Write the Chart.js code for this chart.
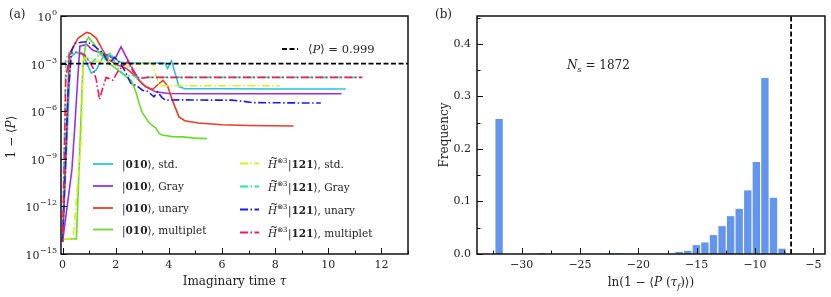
<!DOCTYPE html>
<html><head><meta charset="utf-8">
<script src="https://cdn.jsdelivr.net/npm/chart.js@4.4.0/dist/chart.umd.min.js"></script>
<style>
html,body{margin:0;padding:0;background:#fff;}
#wrap{position:relative;width:831px;height:297px;overflow:hidden;}
.pane{position:absolute;top:0;}
</style></head><body>
<div id="wrap">
<div class="pane" style="left:0;width:415px;height:297px"><canvas id="ca" width="415" height="297"></canvas></div>
<div class="pane" style="left:415px;width:416px;height:297px"><canvas id="cb" width="416" height="297"></canvas></div>
</div>
<script>
// ---------------- DATA: panel (a) ----------------
const tauStd = [0, 0.3, 0.5, 0.75, 1.08, 1.27, 1.51, 1.75, 2.14, 2.4, 3.0, 3.6, 3.85, 3.95, 4.1, 4.38, 4.6, 6.0, 8.0, 10.66];
const valStd = [6e-15, 2.5e-3, 5e-3, 4e-3, 2.5e-4, 4e-4, 2.5e-3, 4e-3, 1.3e-3, 1.1e-3, 1.1e-3, 1.1e-3, 1.1e-3, 5e-4, 1.5e-3, 3.5e-5, 2.6e-5, 2.6e-5, 2.5e-5, 2.5e-5];

const tauGray = [0, 0.35, 0.45, 0.55, 0.65, 0.9, 1.14, 1.52, 1.75, 1.95, 2.2, 2.39, 2.63, 2.88, 3.13, 3.5, 4.0, 5, 7, 10.5];
const valGray = [6e-15, 2e-10, 6.3e-8, 3.2e-5, 1.26e-2, 1.6e-2, 7e-3, 4.4e-3, 3.2e-3, 1.7e-3, 1.15e-2, 2.7e-3, 5e-4, 9e-5, 3.4e-5, 1.66e-5, 1.3e-5, 1.26e-5, 1.26e-5, 1.25e-5];

const tauUnary = [0, 0.25, 0.58, 0.9, 1.05, 1.27, 1.51, 1.76, 2.07, 2.4, 2.76, 3.0, 3.2, 3.38, 3.6, 3.78, 3.95, 4.13, 4.38, 4.6, 5.1, 6.0, 7.0, 8.69];
const valUnary = [6e-15, 4e-3, 3.9e-2, 9.3e-2, 7.9e-2, 3.9e-2, 7e-3, 1.66e-3, 8e-4, 5e-4, 1.5e-4, 5e-5, 3.2e-5, 2.3e-5, 5e-5, 8.9e-5, 4e-5, 5e-6, 4.4e-7, 2.5e-7, 1.8e-7, 1.4e-7, 1.26e-7, 1.17e-7];

const tauMult = [0, 0.52, 0.77, 0.88, 0.98, 1.2, 1.39, 1.6, 1.76, 2.0, 2.3, 2.45, 2.6, 2.76, 2.88, 3.0, 3.26, 3.5, 3.63, 3.75, 4.13, 4.5, 5.0, 5.43];
const valMult = [9e-15, 9e-15, 1e-3, 2.5e-2, 4.5e-2, 1.6e-2, 4.4e-3, 2e-3, 1e-3, 5e-4, 2e-4, 1.26e-4, 8e-5, 1.6e-5, 3.2e-6, 8e-7, 1.8e-7, 9e-8, 4e-8, 3.2e-8, 2.5e-8, 2.4e-8, 2e-8, 1.86e-8];

const tauHStd = [0, 0.4, 0.7, 0.78, 1.0, 1.27, 1.6, 1.9, 2.2, 2.5, 2.8, 3.13, 3.4, 3.5, 3.63, 4.5, 6.0, 8.17];
const valHStd = [9e-15, 9e-15, 1.6e-8, 2e-3, 2.5e-3, 1.3e-3, 1.6e-3, 2e-3, 1e-3, 6.3e-4, 1e-3, 1.12e-3, 1.12e-3, 2.4e-4, 4e-5, 4e-5, 4e-5, 4e-5];

const tauHGray = [0, 0.12, 0.25, 0.45, 0.65, 0.85, 1.05, 1.25, 1.45, 1.65, 1.8, 2.0, 2.2, 2.4, 2.6, 2.8, 3.0, 3.5, 6, 9, 11.28];
const valHGray = [6e-15, 2e-3, 5e-3, 4e-3, 6e-3, 3e-3, 1e-3, 2e-3, 6e-3, 1.5e-3, 5e-3, 8e-4, 3e-4, 1.5e-4, 2e-4, 1.3e-4, 1.35e-4, 1.35e-4, 1.35e-4, 1.35e-4, 1.35e-4];

const tauHUnary = [0, 0.2, 0.34, 0.46, 0.7, 0.9, 1.14, 1.35, 1.52, 1.76, 1.95, 2.07, 2.26, 2.39, 2.57, 2.8, 3.0, 3.2, 3.44, 3.57, 3.75, 3.88, 4.5, 5.5, 6.37, 6.8, 7.11, 8.0, 9.0, 9.72];
const valHUnary = [6e-15, 1e-5, 6.3e-3, 1.86e-2, 2.2e-2, 2.4e-2, 1.5e-2, 8e-3, 4.4e-3, 1e-3, 2.5e-3, 1.66e-3, 6.3e-4, 2.4e-4, 5.6e-5, 4e-5, 2.1e-5, 1.8e-5, 8e-6, 1.66e-5, 7e-6, 5e-6, 5.2e-6, 5e-6, 5e-6, 4.2e-6, 3.5e-6, 3.4e-6, 3.3e-6, 3.3e-6];

const tauHMult = [0, 0.12, 0.25, 0.4, 0.6, 0.83, 1.02, 1.15, 1.27, 1.39, 1.5, 1.64, 1.89, 2.07, 2.3, 2.45, 2.65, 2.88, 3.2, 5, 8, 11.28];
const valHMult = [6e-15, 1e-4, 3.5e-3, 5.6e-3, 5e-3, 3.5e-3, 1.3e-3, 5e-4, 9e-5, 5.5e-6, 2.5e-5, 1.35e-4, 9e-5, 3e-4, 8e-4, 1.3e-3, 3.2e-4, 1.15e-4, 1.35e-4, 1.35e-4, 1.35e-4, 1.35e-4];

const thresholdTau = [-0.06, 13];
const thresholdVal = [1e-3, 1e-3];
const thresholdLabel = '0.999';

const seriesNames = ['std.', 'Gray', 'unary', 'multiplet'];
const xTicksA = [0,1,2,3,4,5,6,7,8,9,10,11,12,13];
const yTicksA = [1e-15, 1e-12, 1e-9, 1e-6, 1e-3, 1];
const yExpA = [-15, -12, -9, -6, -3, 0];

// ---------------- DATA: panel (b) ----------------
const binCenters = [-7.68, -8.415, -9.15, -9.885, -10.62, -11.355, -12.09, -12.825, -13.56, -14.295, -15.03, -15.765, -16.5, -21.645, -22.38, -28.26, -31.935];
const binFreq    = [0.010, 0.107, 0.335, 0.175, 0.121, 0.086, 0.072, 0.053, 0.036, 0.022, 0.017, 0.006, 0.004, 0.001, 0.0015, 0.002, 0.257];
const lnThreshold = -6.908;
const xTicksB = [-32.5, -30, -27.5, -25, -22.5, -20, -17.5, -15, -12.5, -10, -7.5, -5];
const yTicksB = [0, 0.05, 0.1, 0.15, 0.2, 0.25, 0.3, 0.35, 0.4, 0.45];
const sampleCount = '1872';

// ---------------- STYLE ----------------
const FONT = '"DejaVu Serif", "Liberation Serif", serif';
const TXT = '#222';
const colors = ['#27c4e2', '#9a30e6', '#ea3c24', '#68dc26', '#dcef1c', '#2ee6a2', '#1c1cf2', '#f5175f'];
const DASHDOT = [8, 2.5, 1.5, 2.5];

function fontOf(s, base) {
  return (s.st || '') + ' ' + (s.sz || base) + 'px ' + (s.ff || FONT);
}
function measureRich(ctx, segs, base) {
  let w = 0;
  for (const s of segs) { ctx.font = fontOf(s, base); w += ctx.measureText(s.t).width + (s.sp || 0); }
  return w;
}
function drawRich(ctx, segs, x, y, align, base, baseline) {
  ctx.textBaseline = baseline || 'alphabetic';
  ctx.textAlign = 'left';
  const w = measureRich(ctx, segs, base);
  let cx = align === 'center' ? x - w / 2 : (align === 'right' ? x - w : x);
  for (const s of segs) {
    ctx.font = fontOf(s, base);
    ctx.fillText(s.t, cx, y + (s.dy || 0));
    const sw = ctx.measureText(s.t).width;
    if (s.tilde) {
      ctx.save();
      ctx.font = (base - 1) + 'px ' + FONT;
      ctx.textAlign = 'center';
      ctx.fillText('~', cx + sw / 2 + 1.5, y - base * 0.62);
      ctx.restore();
    }
    cx += sw + (s.sp || 0);
  }
}

function toXY(xs, ys) { return xs.map((x, i) => ({ x: x, y: ys[i] })); }

function drawFrameAndTicks(chart, spec) {
  const ctx = chart.ctx, a = chart.chartArea;
  ctx.save();
  ctx.strokeStyle = '#111';
  ctx.lineWidth = 1;
  const xs = chart.scales.x, ys = chart.scales.y;
  ctx.beginPath();
  for (const t of xs.ticks) {
    const px = Math.round(xs.getPixelForValue(t.value)) + 0.5;
    if (px < a.left - 1 || px > a.right + 1) continue;
    const len = spec.xMajor(t.value) ? 6 : 3.5;
    ctx.moveTo(px, a.bottom); ctx.lineTo(px, a.bottom - len);
  }
  for (const t of ys.ticks) {
    const py = Math.round(ys.getPixelForValue(t.value)) + 0.5;
    if (py < a.top - 1 || py > a.bottom + 1) continue;
    const len = spec.yMajor(t.value) ? 6 : 3.5;
    ctx.moveTo(a.left, py); ctx.lineTo(a.left + len, py);
  }
  ctx.stroke();
  ctx.lineWidth = 1.5;
  ctx.strokeStyle = '#111';
  ctx.strokeRect(a.left, a.top, a.right - a.left, a.bottom - a.top);
  ctx.restore();
}

// ---------------- PANEL (a) ----------------
const tauSets = [tauStd, tauGray, tauUnary, tauMult, tauHStd, tauHGray, tauHUnary, tauHMult];
const valSets = [valStd, valGray, valUnary, valMult, valHStd, valHGray, valHUnary, valHMult];
const dsA = tauSets.map((t, i) => ({
  data: toXY(t, valSets[i]),
  borderColor: colors[i],
  borderWidth: 1.6,
  borderDash: i >= 4 ? DASHDOT : [],
  borderDashOffset: i === 7 ? 5 : 0,
  pointRadius: 0,
  tension: 0,
  fill: false,
  order: 9 - i
}));
dsA.push({
  data: toXY(thresholdTau, thresholdVal),
  borderColor: '#000', borderWidth: 1.8, borderDash: [5, 2.5],
  pointRadius: 0, fill: false, order: 0
});

const decorA = {
  id: 'decorA',
  afterDraw(chart) {
    const ctx = chart.ctx, a = chart.chartArea, ys = chart.scales.y;
    drawFrameAndTicks(chart, { xMajor: v => Math.round(v) % 2 === 0, yMajor: v => true });
    ctx.save();
    ctx.fillStyle = TXT;
    yTicksA.forEach((v, i) => {
      const py = ys.getPixelForValue(v);
      ctx.font = '8px ' + FONT;
      const sup = yExpA[i] === 0 ? '0' : '\u2212' + Math.abs(yExpA[i]);
      const sw = ctx.measureText(sup).width;
      ctx.textAlign = 'right'; ctx.textBaseline = 'alphabetic';
      ctx.fillText(sup, a.left - 4, py - 1);
      ctx.font = '11px ' + FONT;
      ctx.fillText('10', a.left - 4 - sw - 0.5, py + 5);
    });
    drawRich(ctx, [{ t: '(a)' }], 9, 18, 'left', 12);
    drawRich(ctx, [{ t: 'Imaginary time ' }, { t: '\u03C4', st: 'italic' }], (a.left + a.right) / 2, 285, 'center', 12);
    ctx.save();
    ctx.translate(12, 137);
    ctx.rotate(-Math.PI / 2);
    drawRich(ctx, [{ t: '1 \u2212 \u27E8' }, { t: 'P', st: 'italic' }, { t: '\u27E9' }], 0, 0, 'center', 12, 'middle');
    ctx.restore();
    ctx.strokeStyle = '#000'; ctx.lineWidth = 1.8; ctx.setLineDash([5, 2.5]);
    ctx.beginPath(); ctx.moveTo(282, 49); ctx.lineTo(298, 49); ctx.stroke();
    ctx.setLineDash([]);
    drawRich(ctx, [{ t: '\u27E8' }, { t: 'P', st: 'italic' }, { t: '\u27E9 = ' + thresholdLabel }], 308, 53, 'left', 11.5);
    const rows1 = [164, 186, 208, 229.5];
    const rows2 = [163.5, 186.5, 209.5, 232.5];
    for (let i = 0; i < 4; i++) {
      ctx.strokeStyle = colors[i]; ctx.lineWidth = 1.8; ctx.setLineDash([]);
      ctx.beginPath(); ctx.moveTo(93, rows1[i]); ctx.lineTo(113, rows1[i]); ctx.stroke();
      drawRich(ctx, [{ t: '|' }, { t: '010', st: 'bold' }, { t: '\u27E9, ' + seriesNames[i] }], 122, rows1[i] + 4, 'left', 10.5);
      ctx.strokeStyle = colors[i + 4]; ctx.setLineDash(DASHDOT);
      ctx.beginPath(); ctx.moveTo(240, rows2[i]); ctx.lineTo(259, rows2[i]); ctx.stroke();
      ctx.setLineDash([]);
      drawRich(ctx, [{ t: 'H', st: 'italic', tilde: true }, { t: '\u2297', sz: 7, dy: -5, ff: '"DejaVu Sans", sans-serif' }, { t: '3', sz: 7, dy: -5, sp: 0.5 }, { t: '|' }, { t: '121', st: 'bold' }, { t: '\u27E9, ' + seriesNames[i] }], 268, rows2[i] + 4, 'left', 10.5);
    }
    ctx.restore();
  }
};

new Chart(document.getElementById('ca'), {
  type: 'line',
  data: { datasets: dsA },
  options: {
    responsive: false, animation: false,
    layout: { autoPadding: false, padding: { top: 16, right: 7, left: 0, bottom: 0 } },
    plugins: { legend: { display: false }, tooltip: { enabled: false } },
    scales: {
      x: {
        type: 'linear', min: -0.06, max: 13,
        grid: { display: false, drawTicks: false }, border: { display: false },
        afterBuildTicks: s => { s.ticks = xTicksA.map(v => ({ value: v })); },
        ticks: { autoSkip: false, maxRotation: 0, padding: 5, color: TXT, font: { family: FONT, size: 11 },
                 callback: v => (Math.round(v) % 2 === 0 ? String(Math.round(v)) : '') },
        afterFit: s => { s.height = 43; }
      },
      y: {
        type: 'logarithmic', min: 1e-15, max: 1,
        grid: { display: false, drawTicks: false }, border: { display: false },
        afterBuildTicks: s => { s.ticks = yTicksA.map(v => ({ value: v })); },
        ticks: { display: false },
        afterFit: s => { s.width = 61; }
      }
    }
  },
  plugins: [decorA]
});

// ---------------- PANEL (b) ----------------
const decorB = {
  id: 'decorB',
  afterDraw(chart) {
    const ctx = chart.ctx, a = chart.chartArea;
    drawFrameAndTicks(chart, {
      xMajor: v => Math.abs(v % 5) < 1e-6,
      yMajor: v => Math.abs(Math.round(v * 10) - v * 10) < 1e-6
    });
    ctx.save();
    ctx.fillStyle = TXT;
    drawRich(ctx, [{ t: '(b)' }], 20, 18, 'left', 12);
    drawRich(ctx, [{ t: 'ln(1 \u2212 \u27E8' }, { t: 'P', st: 'italic' }, { t: ' (' }, { t: '\u03C4', st: 'italic' }, { t: 'f', st: 'italic', sz: 8, dy: 3 }, { t: ')\u27E9)' }], (a.left + a.right) / 2, 286, 'center', 12);
    ctx.save();
    ctx.translate(30, 135);
    ctx.rotate(-Math.PI / 2);
    drawRich(ctx, [{ t: 'Frequency' }], 0, 0, 'center', 12, 'middle');
    ctx.restore();
    drawRich(ctx, [{ t: 'N', st: 'italic' }, { t: 's', st: 'italic', sz: 8, dy: 3 }, { t: ' = ' + sampleCount }], 152, 69, 'left', 12);
    ctx.restore();
  }
};

new Chart(document.getElementById('cb'), {
  type: 'bar',
  data: {
    datasets: [
      {
        type: 'bar',
        data: toXY(binCenters, binFreq),
        backgroundColor: '#6495ED',
        borderWidth: 0,
        barPercentage: 0.86, categoryPercentage: 1,
        order: 2
      },
      {
        type: 'line',
        data: [{ x: lnThreshold, y: 0 }, { x: lnThreshold, y: 0.453 }],
        borderColor: '#000', borderWidth: 1.8, borderDash: [5, 2.5],
        pointRadius: 0, fill: false, order: 0
      }
    ]
  },
  options: {
    responsive: false, animation: false,
    layout: { autoPadding: false, padding: { top: 16, right: 6, left: 0, bottom: 0 } },
    plugins: { legend: { display: false }, tooltip: { enabled: false } },
    scales: {
      x: {
        type: 'linear', min: -33.83, max: -4.0, offset: false,
        grid: { display: false, drawTicks: false }, border: { display: false },
        afterBuildTicks: s => { s.ticks = xTicksB.map(v => ({ value: v })); },
        ticks: { autoSkip: false, maxRotation: 0, padding: 5, color: TXT, font: { family: FONT, size: 11 },
                 callback: v => (Math.abs(v % 5) < 1e-6 ? String(v).replace('-', '\u2212') : '') },
        afterFit: s => { s.height = 43; }
      },
      y: {
        type: 'linear', min: 0, max: 0.453,
        grid: { display: false, drawTicks: false }, border: { display: false },
        afterBuildTicks: s => { s.ticks = yTicksB.map(v => ({ value: v })); },
        ticks: { autoSkip: false, padding: 6, color: TXT, font: { family: FONT, size: 11 },
                 callback: v => (Math.abs(Math.round(v * 10) - v * 10) < 1e-6 ? v.toFixed(1) : '') },
        afterFit: s => { s.width = 62; }
      }
    }
  },
  plugins: [decorB]
});
</script>
</body></html>
